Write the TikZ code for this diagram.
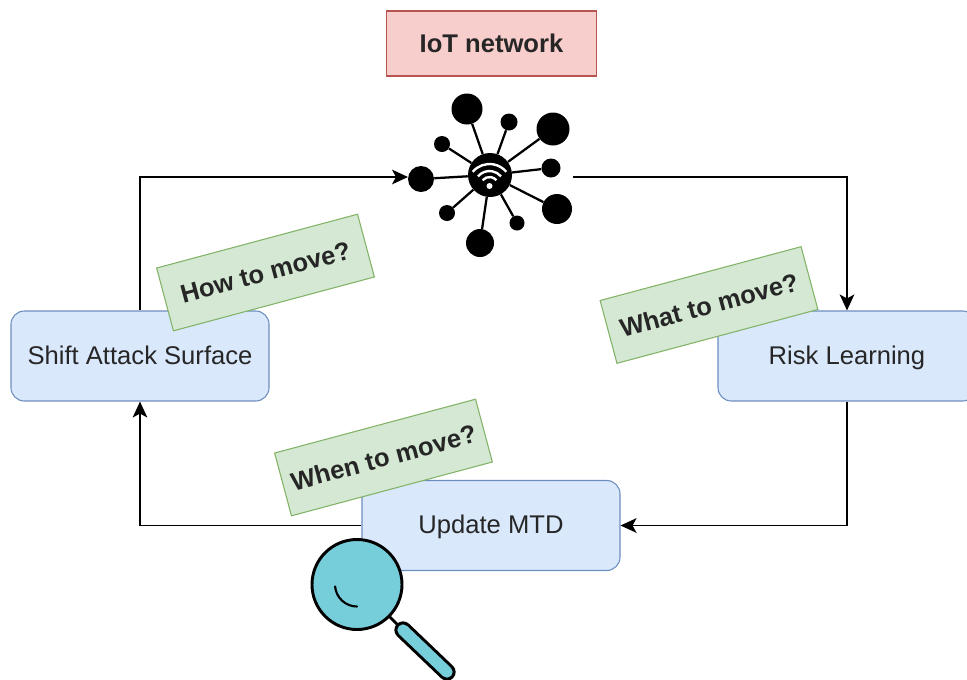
\documentclass[tikz,border=0pt]{standalone}
\usepackage{fontspec}
\setmainfont{Liberation Sans}
\usetikzlibrary{arrows.meta}

\definecolor{boxfill}{HTML}{DAE8FC}
\definecolor{boxline}{HTML}{6C8EBF}
\definecolor{notefill}{HTML}{D5E8D4}
\definecolor{noteline}{HTML}{82B366}
\definecolor{titlefill}{HTML}{F8CECC}
\definecolor{titleline}{HTML}{B85450}
\definecolor{lensfill}{HTML}{76CEDB}

\tikzset{
  stepbox/.style={draw=boxline,fill=boxfill,rounded corners=10pt,line width=0.8pt,
    minimum width=193.5pt,minimum height=67.5pt,inner sep=0pt,text height=15pt,text depth=2.5pt,
    font=\fontsize{19.2}{22}\selectfont,text=black!85},
  notebox/.style={draw=noteline,fill=notefill,line width=0.8pt,rotate=15,
    minimum width=156pt,minimum height=48.75pt,inner sep=0pt,font=\fontsize{19.2}{22}\selectfont\bfseries,text=black!85},
  titlebox/.style={draw=titleline,fill=titlefill,line width=0.8pt,
    minimum width=158pt,minimum height=48.75pt,inner sep=0pt,font=\fontsize{19.2}{22}\selectfont\bfseries,text=black!85},
  flow/.style={line width=1.1pt,-{Stealth[length=12pt,width=11pt,inset=3pt]}},
  spoke/.style={line width=1.7pt}
}

\begin{document}
\begin{tikzpicture}[x=0.75pt,y=-0.75pt]
    \clip (0,0) rectangle (967,679);

    % Title
    \node[titlebox] (Title) at (491.5,43.5) {IoT network};

    % Steps of the loop
    \node[stepbox] (Shift) at (140,356) {Shift Attack Surface};
    \node[stepbox] (Risk) at (847,356) {Risk Learning};
    \node[stepbox] (Update) at (491,525.5) {Update MTD};

    % Free ends at the network
    \coordinate (NetIn) at (408,177);
    \coordinate (NetOut) at (573,177);

    % Loop connectors
    \draw[flow] (Shift.north) |- (NetIn);
    \draw[flow] (NetOut) -| (Risk.north);
    \draw[flow] (Risk.south) |- (Update.east);
    \draw[flow] (Update.west) -| (Shift.south);

    % Questions
    \node[notebox] (How) at (265.5,272.5) {How to move?};
    \node[notebox] (What) at (709,305) {What to move?};
    \node[notebox] (When) at (383.5,457.5) {When to move?};

    % Network hub with its satellites
    \node[circle,fill=black,minimum size=33pt,inner sep=0pt] (Hub) at (490,175) {};
    \foreach \name/\px/\py/\rad in {A/467/109/15.5,B/509/122/8.5,C/553/129/16.5,D/442/144/8,E/551/168/9.5,
        F/421/179/13,G/557/209/15,H/447/213/8,I/517/223/7.5,J/480/243/14}{
      \node[circle,fill=black,minimum size=1.5*\rad pt,inner sep=0pt] (Sat\name) at (\px,\py) {};
      \draw[spoke] (Hub) -- (Sat\name);
    }

    % Wifi sign
    \coordinate (Wifi) at (489.5,186);
    \fill[white] (Wifi) circle (3);
    \foreach \rad in {9,15,22}{
      \draw[white,line width=1.8pt] ([shift={(-140:\rad)}]Wifi) arc[start angle=-140,end angle=-40,radius=\rad];
    }

    % Magnifier
    \coordinate (Lens) at (357,584.5);
    \coordinate (HandleA) at (403,630);
    \coordinate (HandleB) at (447,672);
    \draw[line width=2.2pt] (Lens) -- (HandleA);
    \draw[line width=13pt,line cap=round] (HandleA) -- (HandleB);
    \draw[lensfill,line width=8.5pt,line cap=round] (HandleA) -- (HandleB);
    \draw[fill=lensfill,line width=2.2pt] (Lens) circle (45);
    \draw[line width=1.6pt,line cap=round] ([shift={(175:22)}]Lens) arc[start angle=175,end angle=90,radius=22];
\end{tikzpicture}
\end{document}
